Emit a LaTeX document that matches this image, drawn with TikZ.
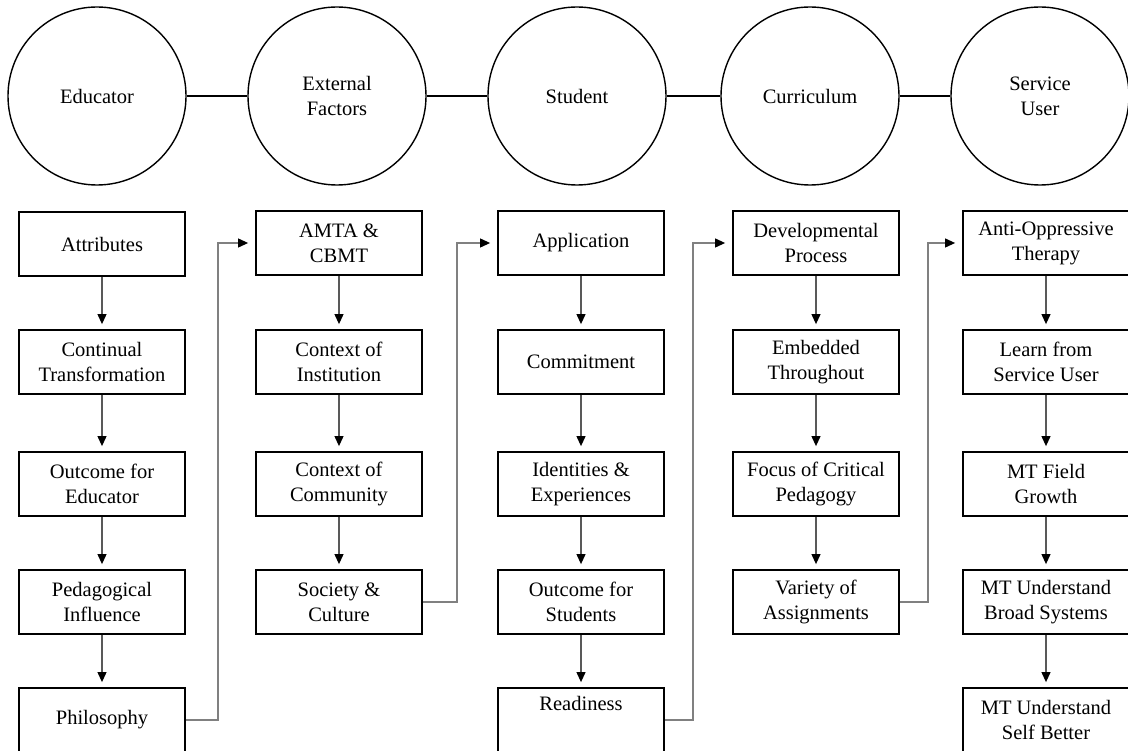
\documentclass[tikz,border=0pt]{standalone}
\usepackage{fontspec}
\setmainfont{Liberation Serif}
\usetikzlibrary{arrows.meta}
\begin{document}
\begin{tikzpicture}[x=1pt,y=-1pt,
  hub/.style={circle, draw, line width=1.4pt, minimum size=178pt, inner sep=0pt,
    align=center, font=\fontsize{20.5}{25}\selectfont},
  stepbox/.style={rectangle, draw, line width=1.8pt, minimum width=166pt,
    minimum height=64pt, inner sep=2pt, align=center,
    font=\fontsize{20.5}{25}\selectfont},
  link/.style={line width=2.8pt},
  flow/.style={draw=black!65, line width=1.1pt,
    -{Triangle[length=10pt,width=9pt,color=black]}, shorten >=5pt},
  jump/.style={draw=black!50, line width=1.1pt,
    -{Triangle[length=10pt,width=9pt,color=black]}, shorten >=7pt}
]
\clip (0,0) rectangle (1128,751);

% themes
\node[hub] (educator) at (97,96)  {Educator};
\node[hub] (external) at (337,96) {External\\Factors};
\node[hub] (student)  at (577,96) {Student};
\node[hub] (curric)   at (810,96) {Curriculum};
\node[hub] (service)  at (1040,96) {Service\\User};

\draw[link] (educator) -- (external);
\draw[link] (external) -- (student);
\draw[link] (student) -- (curric);
\draw[link] (curric) -- (service);

% column 1: educator
\node[stepbox] (attr)  at (102,244) {Attributes};
\node[stepbox] (cont)  at (102,362) {Continual\\Transformation};
\node[stepbox] (outed) at (102,484) {Outcome for\\Educator};
\node[stepbox] (peda)  at (102,602) {Pedagogical\\Influence};
\node[stepbox] (phil)  at (102,720) {Philosophy};

% column 2: external factors
\node[stepbox] (amta)  at (339,243) {AMTA \&\\CBMT};
\node[stepbox] (inst)  at (339,362) {Context of\\Institution};
\node[stepbox] (comm)  at (339,484) {Context of\\Community};
\node[stepbox] (soc)   at (339,602) {Society \&\\Culture};

% column 3: student
\node[stepbox] (appl)  at (581,243) {Application};
\node[stepbox] (commit) at (581,362) {Commitment};
\node[stepbox] (ident) at (581,484) {Identities \&\\Experiences};
\node[stepbox] (outst) at (581,602) {Outcome for\\Students};
\node[stepbox] (ready) at (581,720) {Readiness\\\strut};

% column 4: curriculum
\node[stepbox] (devel) at (816,243) {Developmental\\Process};
\node[stepbox] (embed) at (816,362) {Embedded\\Throughout};
\node[stepbox] (focus) at (816,484) {Focus of Critical\\Pedagogy};
\node[stepbox] (vari)  at (816,602) {Variety of\\Assignments};

% column 5: service user
\node[stepbox] (anti)  at (1046,243) {Anti-Oppressive\\Therapy};
\node[stepbox] (learn) at (1046,362) {Learn from\\Service User};
\node[stepbox] (field) at (1046,484) {MT Field\\Growth};
\node[stepbox] (broad) at (1046,602) {MT Understand\\Broad Systems};
\node[stepbox] (self)  at (1046,720) {MT Understand\\Self Better};

% arrows down each column
\draw[flow] (attr) -- (cont);
\draw[flow] (cont) -- (outed);
\draw[flow] (outed) -- (peda);
\draw[flow] (peda) -- (phil);

\draw[flow] (amta) -- (inst);
\draw[flow] (inst) -- (comm);
\draw[flow] (comm) -- (soc);

\draw[flow] (appl) -- (commit);
\draw[flow] (commit) -- (ident);
\draw[flow] (ident) -- (outst);
\draw[flow] (outst) -- (ready);

\draw[flow] (devel) -- (embed);
\draw[flow] (embed) -- (focus);
\draw[flow] (focus) -- (vari);

\draw[flow] (anti) -- (learn);
\draw[flow] (learn) -- (field);
\draw[flow] (field) -- (broad);
\draw[flow] (broad) -- (self);

% links from the foot of one column to the head of the next
\coordinate (j1) at (218,0);
\coordinate (j2) at (457,0);
\coordinate (j3) at (693,0);
\coordinate (j4) at (928,0);

\draw[jump] (phil.east) -- (phil.east -| j1) -- (amta.west -| j1) -- (amta.west);
\draw[jump] (soc.east) -- (soc.east -| j2) -- (appl.west -| j2) -- (appl.west);
\draw[jump] (ready.east) -- (ready.east -| j3) -- (devel.west -| j3) -- (devel.west);
\draw[jump] (vari.east) -- (vari.east -| j4) -- (anti.west -| j4) -- (anti.west);
\end{tikzpicture}
\end{document}
